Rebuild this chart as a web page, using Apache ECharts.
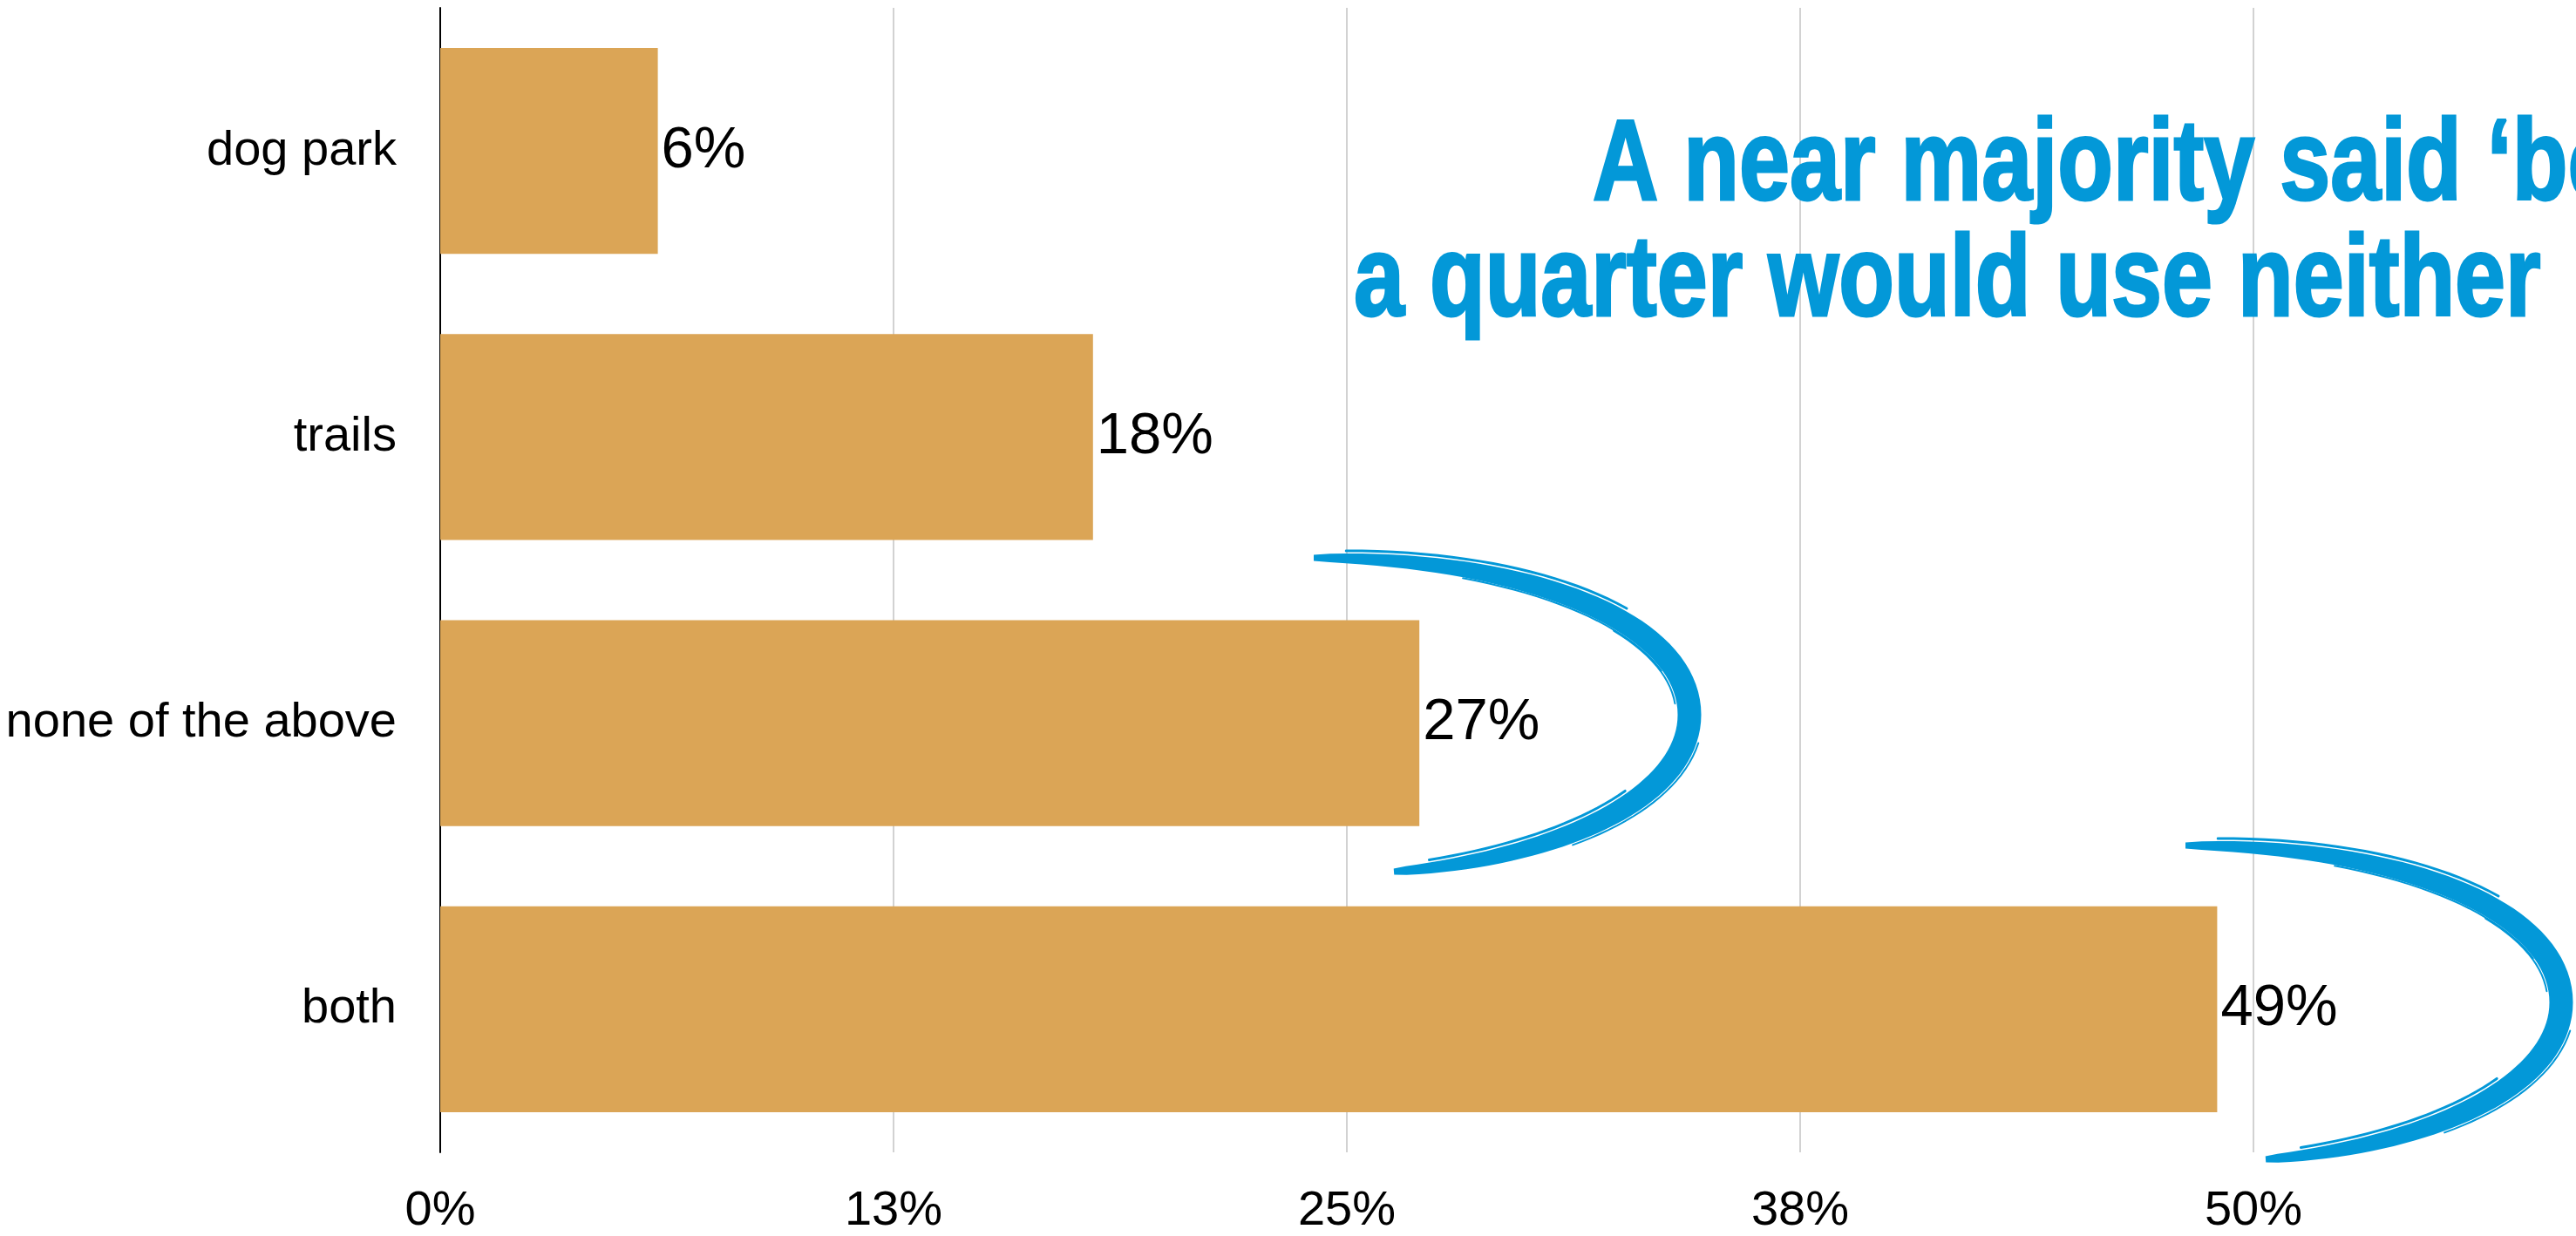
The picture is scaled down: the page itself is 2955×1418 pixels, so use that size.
<!DOCTYPE html>
<html>
<head>
<meta charset="utf-8">
<script src="https://cdn.jsdelivr.net/npm/echarts@6/dist/echarts.min.js"></script>
<style>
html,body{margin:0;padding:0;background:#ffffff;}
#chart{width:2955px;height:1418px;}
</style>
</head>
<body>
<div id="chart"></div>
<script>
// ---- data ----
const categories = ['dog park', 'trails', 'none of the above', 'both'];
const values = [6, 18, 27, 49];
const axisMin = 0;
const axisMax = 62.5;
const axisStep = 12.5;
const titleLines = ['A near majority said \u2018both\u2019 and', 'a quarter would use neither'];

// ---- styles ----
const BAR_COLOR = '#dba556';
const BLUE = '#0398d8';
const FONT = '"Liberation Sans", Arial, Helvetica, sans-serif';

// sample cubic bezier segments -> centers + normals (annotation shape only)
function sampleSegs(ox, oy, segs) {
  const centers = [], normals = [];
  const n = 40;
  segs.forEach((s, si) => {
    for (let i = (si === 0 ? 0 : 1); i <= n; i++) {
      const t = i / n, mt = 1 - t;
      const x = mt*mt*mt*s[0][0] + 3*mt*mt*t*s[1][0] + 3*mt*t*t*s[2][0] + t*t*t*s[3][0];
      const y = mt*mt*mt*s[0][1] + 3*mt*mt*t*s[1][1] + 3*mt*t*t*s[2][1] + t*t*t*s[3][1];
      const dx = 3*mt*mt*(s[1][0]-s[0][0]) + 6*mt*t*(s[2][0]-s[1][0]) + 3*t*t*(s[3][0]-s[2][0]);
      const dy = 3*mt*mt*(s[1][1]-s[0][1]) + 6*mt*t*(s[2][1]-s[1][1]) + 3*t*t*(s[3][1]-s[2][1]);
      const L = Math.hypot(dx, dy) || 1;
      centers.push([ox + x, oy + y]);
      normals.push([-dy / L, dx / L]);
    }
  });
  return {centers, normals};
}
function widthAt(u, wMax, wEnd) {
  return wEnd + (wMax - wEnd) * Math.pow(Math.sin(Math.PI * u), 0.6);
}
function brushPoly(ox, oy, segs, wMax, wEnd) {
  const {centers, normals} = sampleSegs(ox, oy, segs);
  const N = centers.length;
  const left = [], right = [];
  for (let i = 0; i < N; i++) {
    const w = widthAt(i / (N - 1), wMax, wEnd);
    left.push([centers[i][0] + normals[i][0]*w/2, centers[i][1] + normals[i][1]*w/2]);
    right.push([centers[i][0] - normals[i][0]*w/2, centers[i][1] - normals[i][1]*w/2]);
  }
  return left.concat(right.reverse());
}
// thin strand along the stroke (sketchy texture)
function strand(ox, oy, segs, u0, u1, side, extra, wMax, wEnd) {
  const {centers, normals} = sampleSegs(ox, oy, segs);
  const N = centers.length, pts = [];
  for (let i = 0; i < N; i++) {
    const u = i / (N - 1);
    if (u < u0 || u > u1) continue;
    const off = side * (widthAt(u, wMax, wEnd) / 2 + extra);
    pts.push([centers[i][0] + normals[i][0]*off, centers[i][1] + normals[i][1]*off]);
  }
  return pts;
}
const arcSegs = [
  [[0, 0], [250, 0], [431, 75], [431, 180]],
  [[431, 180], [431, 275], [280, 345], [92, 360]]
];
function arcGraphics(ox, oy) {
  const els = [{
    type: 'polygon', z: 100,
    shape: {points: brushPoly(ox, oy, arcSegs, 27, 7)},
    style: {fill: BLUE}
  }];
  const strands = [
    [0.02, 0.30, -1, 3, 3], [0.30, 0.48, 1, 2, 2], [0.55, 0.80, -1, 2, 2],
    [0.70, 0.97, 1, 3, 3], [0.12, 0.40, 1, 1, 2]
  ];
  strands.forEach(s => {
    els.push({
      type: 'polyline', z: 100,
      shape: {points: strand(ox, oy, arcSegs, s[0], s[1], s[2], s[3], 27, 7)},
      style: {stroke: BLUE, lineWidth: s[4], fill: null, lineCap: 'round'}
    });
  });
  return els;
}

const chart = echarts.init(document.getElementById('chart'), null, {renderer: 'canvas'});

const option = {
  backgroundColor: '#ffffff',
  animation: false,
  grid: {
    left: 505, top: 9, width: 2600, height: 1313,
    containLabel: false,
    outerBoundsMode: 'none'
  },
  xAxis: {
    type: 'value',
    min: axisMin, max: axisMax, interval: axisStep,
    axisLine: {show: false},
    axisTick: {show: false},
    splitLine: {show: true, lineStyle: {color: '#d2d2d2', width: 2}},
    axisLabel: {
      color: '#000', fontSize: 56, fontFamily: FONT, margin: 40,
      formatter: v => Math.round(v) + '%'
    }
  },
  yAxis: {
    type: 'category',
    inverse: true,
    data: categories,
    axisLine: {show: true, lineStyle: {color: '#000', width: 2}},
    axisTick: {show: false},
    splitLine: {show: false},
    axisLabel: {color: '#000', fontSize: 56, fontFamily: FONT, margin: 50}
  },
  series: [{
    type: 'bar',
    data: values,
    barCategoryGap: '28%',
    itemStyle: {color: BAR_COLOR},
    label: {
      show: true, position: 'right', distance: 4,
      color: '#000', fontSize: 67, fontFamily: FONT,
      formatter: p => p.value + '%'
    }
  }],
  graphic: [].concat(
    arcGraphics(1507, 640),
    arcGraphics(2507, 970),
    [
      {
        type: 'text', z: 101,
        x: 1827, y: 193, scaleX: 0.79, scaleY: 1,
        style: {
          text: titleLines[0], fill: BLUE, stroke: BLUE, lineWidth: 3,
          font: 'bold 132px "Liberation Sans", Arial, sans-serif',
          align: 'left', verticalAlign: 'middle'
        }
      },
      {
        type: 'text', z: 101,
        x: 1553, y: 326, scaleX: 0.79, scaleY: 1,
        style: {
          text: titleLines[1], fill: BLUE, stroke: BLUE, lineWidth: 3,
          font: 'bold 132px "Liberation Sans", Arial, sans-serif',
          align: 'left', verticalAlign: 'middle'
        }
      }
    ]
  )
};
chart.setOption(option);
</script>
</body>
</html>
